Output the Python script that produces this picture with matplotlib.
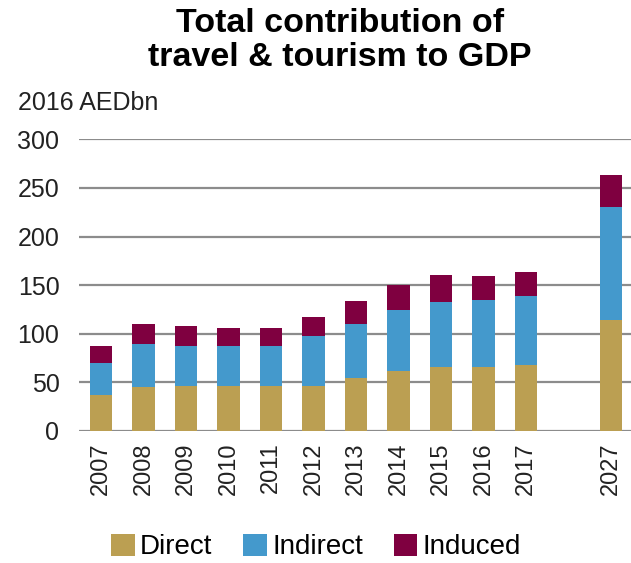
import numpy as np
import matplotlib
matplotlib.use("Agg")
import matplotlib.pyplot as plt

plt.rcParams["font.family"] = ["Liberation Sans", "DejaVu Sans"]

# data (2016 AEDbn)
years = ["2007", "2008", "2009", "2010", "2011", "2012", "2013",
         "2014", "2015", "2016", "2017", "2027"]
direct = [37, 45, 46, 46, 46, 46, 55, 62, 66, 65.5, 68, 114]
indirect = [33, 44, 41, 41, 41, 51.5, 55.5, 62, 67, 69, 70.5, 116]
induced = [17, 21, 21, 18.5, 18.5, 20, 23, 26, 27, 24.5, 25, 33]

# 2027 sits two slots after 2017
xpos = list(range(11)) + [12]

fig = plt.figure(figsize=(6.31, 5.63), dpi=100)
ax = fig.add_axes([0.125, 0.2345, 0.875, 0.518])

d = np.array(direct)
i = np.array(indirect)
u = np.array(induced)
w = 0.54
ax.bar(xpos, d, w, color="#BB9F52", label="Direct", zorder=3)
ax.bar(xpos, i, w, bottom=d, color="#4499CC", label="Indirect", zorder=3)
ax.bar(xpos, u, w, bottom=d + i, color="#7F0040", label="Induced", zorder=3)

ax.set_xlim(-0.52, 12.47)
ax.set_ylim(0, 300)
ax.set_yticks(np.arange(0, 301, 50))
ax.set_xticks(xpos)
ax.set_xticklabels(years, rotation=90)
ax.tick_params(length=0, labelsize=17, colors="#222222")
ax.tick_params(axis="y", labelsize=18, pad=14)
ax.tick_params(axis="x", pad=8)
for s in ax.spines.values():
    s.set_visible(False)
ax.yaxis.grid(True, color="#8c8c8c", lw=1.6, zorder=0)
ax.set_axisbelow(True)

fig.text(340 / 631, 1 - 8 / 563, "Total contribution of\ntravel & tourism to GDP",
         ha="center", va="top", fontsize=24.5, fontweight="bold", linespacing=1.12)
fig.text(18 / 631, 1 - 103 / 563, "2016 AEDbn", ha="left", va="center",
         fontsize=18, color="#222222")

fig.legend(loc="center", bbox_to_anchor=(316 / 631, 1 - 547 / 563), ncol=3,
           frameon=False, fontsize=20, handlelength=0.85, handleheight=0.85,
           handletextpad=0.2, columnspacing=1.1)

fig.savefig("out.png", dpi=100)
